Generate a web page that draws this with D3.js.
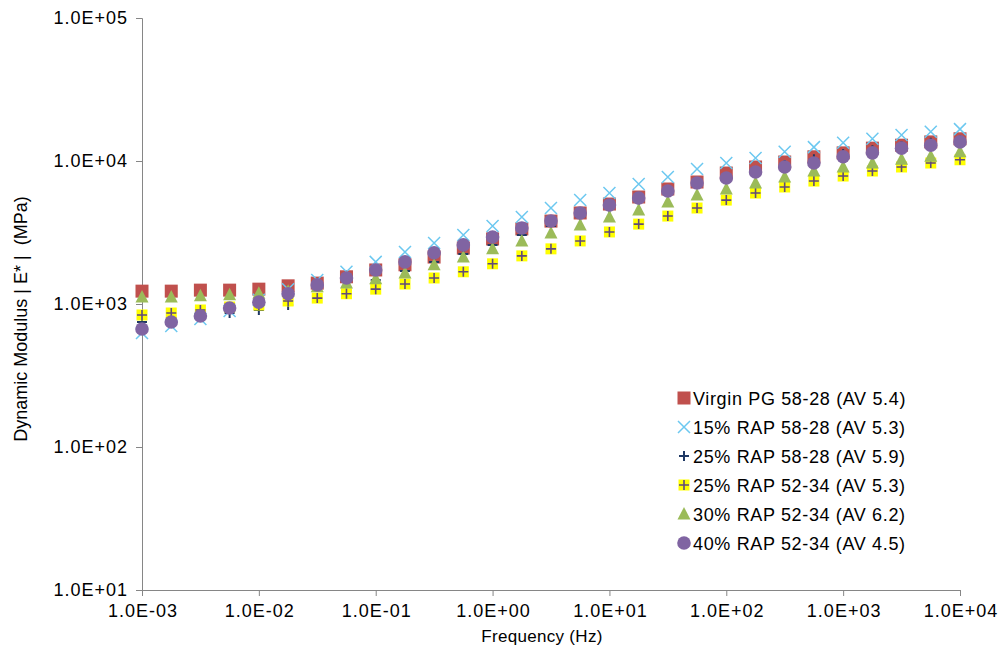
<!DOCTYPE html>
<html>
<head>
<meta charset="utf-8">
<script src="https://cdn.jsdelivr.net/npm/d3@7"></script>
<style>
  body { margin: 0; background: #fff; }
  text { font-family: "Liberation Sans", Arial, sans-serif; fill: #000; }
</style>
</head>
<body>
<div id="chart"></div>
<script>
// frequencies: 4 points per decade, 1E-3 .. 1E4 Hz
const freq = [0.001, 0.00178, 0.00316, 0.00562, 0.01, 0.0178, 0.0316, 0.0562, 0.1, 0.178, 0.316, 0.562,
  1, 1.78, 3.16, 5.62, 10, 17.8, 31.6, 56.2, 100, 178, 316, 562, 1000, 1780, 3160, 5620, 10000];

const virgin = [1230, 1230, 1250, 1250, 1270, 1340, 1400, 1550, 1730, 1880, 2130, 2460, 2850, 3350, 3800,
  4330, 5000, 5600, 6370, 7130, 8240, 9080, 9840, 10700, 11400, 12300, 12900, 13600, 14300];
const rap15 = [627, 702, 785, 893, 1070, 1270, 1470, 1680, 1970, 2310, 2670, 3040, 3510, 4060, 4690,
  5330, 5970, 6900, 7730, 8790, 9680, 10500, 11600, 12500, 13400, 14300, 15200, 16000, 16700];
const rap25a = [748, 785, 824, 865, 908, 984, 1100, 1250, 1470, 1700, 1970, 2240, 2590, 3040, 3510,
  4060, 4690, 5330, 6070, 6900, 7730, 8510, 9380, 10300, 11200, 11900, 12700, 13400, 14000];
const rap25b = [838, 865, 908, 953, 984, 1050, 1100, 1180, 1270, 1380, 1520, 1680, 1910, 2170, 2430,
  2760, 3190, 3620, 4120, 4690, 5330, 5970, 6580, 7240, 7850, 8510, 9080, 9680, 10200];
const rap30 = [1120, 1120, 1140, 1160, 1190, 1230, 1320, 1400, 1500, 1650, 1880, 2130, 2430, 2760, 3140,
  3570, 4060, 4540, 5160, 5780, 6370, 7020, 7730, 8510, 9080, 9680, 10300, 10800, 11600];
const rap40 = [668, 748, 824, 937, 1030, 1180, 1360, 1520, 1730, 1970, 2280, 2590, 2940, 3400, 3810,
  4330, 4920, 5510, 6170, 7020, 7600, 8380, 9080, 9680, 10700, 11400, 12300, 12900, 13600];

const seriesNames = ["Virgin PG 58-28 (AV 5.4)", "15% RAP 58-28 (AV 5.3)", "25% RAP 58-28 (AV 5.9)",
  "25% RAP 52-34 (AV 5.3)", "30% RAP 52-34 (AV 6.2)", "40% RAP 52-34 (AV 4.5)"];
const xTicks = [1e-3, 1e-2, 1e-1, 1, 10, 100, 1000, 10000];
const yTicks = [10, 100, 1000, 10000, 100000];

const series = [
  { name: seriesNames[0], values: virgin, type: "square", color: "#C0504D" },
  { name: seriesNames[1], values: rap15, type: "x", color: "#6CC8F0" },
  { name: seriesNames[2], values: rap25a, type: "plus", color: "#1F3864" },
  { name: seriesNames[3], values: rap25b, type: "yplus", color: "#FFFF00" },
  { name: seriesNames[4], values: rap30, type: "triangle", color: "#9BBB59" },
  { name: seriesNames[5], values: rap40, type: "circle", color: "#8064A2" }
];

const W = 999, H = 650;
const margin = { left: 142, right: 960, top: 18, bottom: 590 };

const svg = d3.select("#chart").append("svg")
  .attr("width", W).attr("height", H);

const x = d3.scaleLog().domain([1e-3, 1e4]).range([margin.left, margin.right]);
const y = d3.scaleLog().domain([10, 1e5]).range([margin.bottom, margin.top]);

const fmt = d => {
  const e = Math.round(Math.log10(d));
  return "1.0E" + (e < 0 ? "-" : "+") + String(Math.abs(e)).padStart(2, "0");
};

const xAxis = svg.append("g")
  .attr("transform", `translate(0,${margin.bottom})`)
  .call(d3.axisBottom(x).tickValues(xTicks).tickFormat(fmt).tickSizeOuter(0).tickSize(6).tickPadding(8));
const yAxis = svg.append("g")
  .attr("transform", `translate(${margin.left},0)`)
  .call(d3.axisLeft(y).tickValues(yTicks).tickFormat(fmt).tickSizeOuter(0).tickSize(6).tickPadding(8));

[xAxis, yAxis].forEach(g => {
  g.select(".domain").attr("stroke", "#868686");
  g.selectAll(".tick line").attr("stroke", "#868686");
  g.selectAll(".tick text").attr("font-size", 18).attr("fill", "#000")
    .attr("letter-spacing", "1px")
    .style("font-family", "'Liberation Sans', Arial, sans-serif");
});
// x labels: trailing letter spacing shifts the centre, nudge back
xAxis.selectAll(".tick text").attr("dx", "0.5px");

svg.append("text")
  .attr("x", 542).attr("y", 642)
  .attr("text-anchor", "middle").attr("font-size", 17)
  .attr("letter-spacing", "0.3px")
  .text("Frequency (Hz)");

svg.append("text")
  .attr("transform", `translate(27,319) rotate(-90)`)
  .attr("text-anchor", "middle").attr("font-size", 18)
  .style("white-space", "pre")
  .text("Dynamic Modulus | E* |  (MPa)");

function drawMarker(g, type, color) {
  if (type === "square") {
    g.append("rect").attr("x", -6.5).attr("y", -6.5).attr("width", 13).attr("height", 13).attr("fill", color);
  } else if (type === "x") {
    g.append("path").attr("d", "M-6,-6L6,6M-6,6L6,-6").attr("stroke", color).attr("stroke-width", 1.5).attr("fill", "none");
  } else if (type === "plus") {
    g.append("path").attr("d", "M-5,0H5M0,-5V5").attr("stroke", color).attr("stroke-width", 2).attr("fill", "none");
  } else if (type === "yplus") {
    g.append("rect").attr("x", -5.5).attr("y", -5.5).attr("width", 11).attr("height", 11).attr("fill", color);
    g.append("path").attr("d", "M-5,0H5M0,-5V5").attr("stroke", "#604A7B").attr("stroke-width", 1.6).attr("fill", "none");
  } else if (type === "triangle") {
    g.append("path").attr("d", "M0,-7L6.5,5.5L-6.5,5.5Z").attr("fill", color);
  } else if (type === "circle") {
    g.append("circle").attr("r", 6.8).attr("fill", color);
  }
}

series.forEach(s => {
  const g = svg.append("g");
  s.values.forEach((v, i) => {
    const m = g.append("g").attr("transform", `translate(${x(freq[i])},${y(v)})`);
    drawMarker(m, s.type, s.color);
  });
});

// legend
const legend = svg.append("g").attr("transform", "translate(684,398)");
series.forEach((s, i) => {
  const row = legend.append("g").attr("transform", `translate(0,${i * 29})`);
  drawMarker(row, s.type, s.color);
  row.append("text").attr("x", 9).attr("y", 6.5).attr("font-size", 18)
    .attr("letter-spacing", "0.65px").text(s.name);
});
</script>
</body>
</html>
